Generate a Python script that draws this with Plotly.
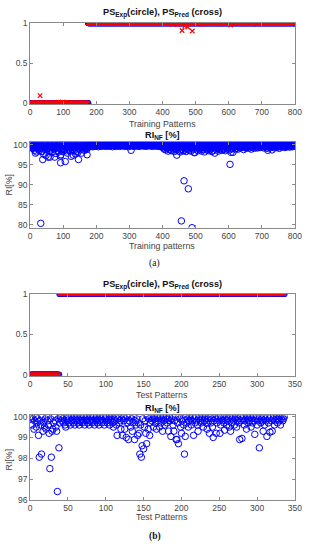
import plotly.graph_objects as go

# ---------------- DATA ----------------
# Training set: experimental PS (run lengths of value), predicted PS deviations
TRAIN_PS_EXP_RUNS = [(0, 175), (1, 625)]
TRAIN_PS_PRED_DEV = {30: 0.095, 86: 0.012, 92: 0.01, 98: 0.014, 104: 0.01, 110: 0.008,
                     430: 0.985, 445: 0.98, 459: 0.906, 467: 0.96, 476: 0.95,
                     490: 0.9, 520: 0.985, 606: 0.975}
TRAIN_RI = [
    99.6, 99.9, 99.2, 100, 99.8, 99.4, 99.7, 100, 99.1, 99.9, 99.5, 99.8, 98.6, 99.9, 100, 97.9, 99.3, 99.8, 99.6, 98.2,
    99.9, 100, 99.4, 98.9, 99.7, 100, 99.2, 98.5, 99.8, 99.9, 99.5, 80.4, 99.1, 99.7, 100, 98.3, 99.6, 96.3, 99.8, 99.4,
    97.6, 99.9, 99.2, 100, 98.8, 99.5, 99.9, 97.3, 99.7, 100, 98.9, 99.4, 99.8, 96.9, 99.6, 99.1, 100, 98.4, 99.7, 96.9,
    99.9, 99.3, 98.7, 100, 99.6, 99.8, 98.1, 99.2, 100, 99.5, 99.7, 98.9, 99.9, 96.9, 99.4, 100, 99.1, 97.8, 99.8, 99.6,
    99.3, 100, 98.6, 99.7, 99.9, 99.2, 98.2, 100, 99.5, 99.8, 97.2, 95.5, 97.5, 99.6, 100, 98.8, 99.4, 99.9, 98.3, 99.7,
    100, 99.1, 99.8, 98.7, 99.5, 95.8, 100, 99.3, 99.7, 98.5, 99.9, 99.6, 97.9, 100, 99.2, 99.8, 98.9, 99.5, 100, 99.4,
    98.4, 99.9, 99.7, 97.1, 100, 99.3, 99.6, 98.8, 99.9, 97.4, 100, 99.5, 98.6, 99.8, 99.2, 100, 97.7, 99.6, 99.9, 98.3,
    99.7, 100, 99.4, 98.1, 99.8, 96.3, 100, 99.5, 99.1, 99.9, 98.7, 99.6, 100, 99.3, 97.9, 99.8, 99.9, 98.9, 100, 99.5,
    99.7, 99.2, 100, 98.6, 99.9, 99.4, 99.8, 100, 99.1, 99.6, 98.8, 97.5, 99.9, 100, 99.3, 99.8, 100, 99.6, 99.9, 100,
    99.9, 100, 99.7, 99.8, 100, 99.6, 99.9, 100, 99.5, 99.8, 100, 99.9, 99.7, 100, 99.8, 99.6, 100, 99.9, 99.8, 100,
    99.7, 100, 99.9, 99.8, 100, 99.5, 99.9, 100, 99.8, 99.7, 100, 99.9, 100, 99.6, 99.8, 100, 99.9, 99.7, 100, 99.8,
    100, 99.9, 99.8, 100, 99.7, 100, 99.9, 99.6, 100, 99.8, 99.9, 100, 99.7, 99.9, 100, 99.8, 100, 99.9, 99.6, 100,
    99.8, 100, 99.9, 99.7, 100, 99.8, 100, 99.9, 99.5, 100, 99.8, 99.9, 100, 99.7, 100, 99.9, 99.8, 100, 99.6, 99.9,
    100, 99.8, 99.9, 100, 99.7, 99.9, 100, 99.8, 100, 99.6, 99.9, 100, 99.8, 99.7, 100, 99.9, 100, 99.8, 99.9, 100,
    99.7, 100, 99.9, 99.8, 100, 99.6, 99.9, 100, 99.8, 100, 99.7, 99.9, 100, 99.8, 99.9, 100, 99.5, 100, 99.8, 99.9,
    100, 99.7, 99.9, 100, 98.6, 99.8, 100, 99.9, 99.7, 100, 99.8, 100, 99.9, 99.6, 100, 99.8, 99.9, 100, 99.7, 100,
    99.9, 99.8, 100, 99.7, 99.9, 100, 99.8, 100, 99.6, 99.9, 100, 99.8, 99.7, 100, 99.9, 100, 99.8, 99.9, 100, 99.7,
    100, 99.9, 99.8, 100, 99.7, 99.9, 100, 99.8, 100, 99.6, 99.9, 100, 99.8, 99.9, 100, 99.7, 100, 99.9, 99.8, 100,
    99.8, 100, 99.9, 99.7, 100, 99.8, 99.9, 100, 99.6, 100, 99.9, 99.8, 100, 99.7, 99.9, 100, 99.8, 100, 99.9, 99.7,
    100, 99.8, 99.9, 100, 99.6, 99.9, 100, 99.8, 99.7, 100, 99.9, 100, 99.8, 99.5, 100, 99.9, 99.7, 100, 99.8, 99.9,
    99.6, 100, 99.2, 99.8, 98.9, 99.9, 100, 99.4, 99.7, 98.7, 100, 99.5, 99.9, 99.1, 100, 99.6, 98.4, 99.8, 100, 99.3,
    99.9, 98.8, 99.6, 100, 99.2, 99.8, 98.5, 100, 99.7, 99.4, 99.9, 98.9, 100, 99.5, 99.8, 98.3, 99.9, 100, 99.1, 99.6,
    98.7, 100, 97.4, 99.8, 99.3, 100, 98.9, 99.7, 99.9, 98.4, 100, 99.5, 99.8, 98.2, 99.9, 100, 81.0, 99.6, 98.8, 99.9,
    100, 99.3, 98.5, 99.8, 91.0, 99.7, 100, 98.7, 99.5, 99.9, 98.3, 100, 99.6, 99.1, 99.8, 98.8, 100, 89.0, 99.4, 99.9,
    98.6, 100, 99.7, 99.2, 99.9, 98.4, 100, 99.5, 79.3, 99.8, 98.9, 100, 99.6, 99.3, 99.9, 98.1, 98.0, 100, 99.7, 99.4,
    99.8, 100, 98.7, 99.6, 99.9, 99.1, 100, 98.5, 99.8, 99.4, 100, 99.7, 98.9, 99.9, 100, 99.2, 99.6, 98.4, 100, 99.8,
    99.5, 99.9, 98.8, 100, 99.3, 99.7, 98.2, 100, 99.6, 99.9, 99.0, 100, 99.4, 98.7, 99.8, 100, 99.2, 99.6, 99.9, 98.5,
    100, 99.7, 99.1, 99.9, 98.8, 100, 99.5, 99.8, 98.3, 100, 99.6, 99.9, 99.2, 98.6, 100, 99.7, 99.4, 97.9, 99.9, 100,
    99.3, 99.8, 98.7, 100, 99.6, 99.9, 99.0, 100, 98.4, 99.7, 99.9, 100, 99.2, 98.9, 99.8, 100, 99.5, 99.9, 98.6, 100,
    99.7, 99.1, 99.9, 100, 98.8, 99.6, 100, 99.4, 99.8, 98.5, 100, 99.9, 99.2, 99.7, 100, 98.9, 99.8, 99.5, 100, 99.9,
    99.3, 100, 98.7, 95.1, 99.8, 99.6, 98.1, 100, 99.4, 99.9, 99.0, 100, 98.1, 99.7, 99.9, 100, 99.5, 99.8, 98.9, 100,
    99.8, 99.5, 100, 99.1, 99.9, 99.7, 100, 98.9, 99.8, 99.6, 100, 99.3, 99.9, 100, 99.6, 99.2, 100, 99.8, 99.5, 99.9,
    100, 99.4, 99.8, 99.9, 98.8, 100, 99.6, 99.9, 99.3, 100, 99.7, 99.8, 100, 99.1, 99.9, 99.6, 100, 99.8, 99.4, 99.9,
    99.7, 100, 99.2, 99.9, 99.8, 100, 99.5, 98.9, 100, 99.7, 99.9, 99.3, 100, 99.8, 99.6, 100, 99.9, 99.1, 99.8, 100,
    99.6, 99.9, 100, 99.4, 99.8, 99.7, 100, 99.2, 99.9, 100, 99.5, 99.8, 99.9, 100, 99.3, 99.7, 100, 99.9, 99.6, 99.8,
    100, 99.5, 99.9, 99.8, 100, 99.2, 99.7, 100, 99.9, 99.4, 99.8, 100, 99.6, 99.9, 100, 99.1, 99.8, 98.6, 100, 99.7,
    99.9, 100, 99.3, 99.8, 99.6, 100, 99.9, 99.5, 100, 99.8, 98.7, 100, 99.4, 99.9, 99.7, 100, 99.8, 99.2, 100, 99.9,
    99.6, 100, 99.8, 99.9, 99.3, 100, 99.7, 99.5, 100, 99.9, 99.8, 100, 99.1, 99.9, 99.6, 100, 99.8, 99.4, 100, 99.9,
    99.7, 100, 99.9, 99.5, 99.8, 100, 99.6, 99.9, 100, 99.3, 99.8, 100, 99.9, 99.7, 100, 99.5, 99.8, 100, 99.9, 99.6,
    100, 99.8, 99.9, 99.4, 100, 99.7, 99.9, 100, 99.8, 99.6, 100, 99.9, 99.5, 100, 99.8, 99.9, 100, 99.7, 99.9, 100,
]

# Test set
TEST_PS_EXP_RUNS = [(0, 38), (1, 298)]
TEST_PS_PRED_DEV = {}
TEST_RI = [
    99.9, 100, 99.6, 99.9, 99.4, 99.8, 100, 99.5, 99.7, 99.9, 99.1, 98.05, 99.8, 99.6, 98.2, 100, 99.3, 99.7, 99.5, 99.9,
    99.4, 100, 99.8, 99.6, 99.2, 97.5, 99.9, 98.05, 99.3, 99.4, 99.7, 100, 99.8, 99.5, 99.3, 96.4, 99.9, 98.5, 99.7, 100,
    100, 99.8, 99.9, 99.7, 100, 99.6, 99.5, 99.9, 99.8, 100, 99.7, 99.9, 99.6, 100, 99.8, 99.9, 99.7, 100, 99.6, 99.9,
    99.8, 100, 99.7, 99.9, 99.6, 99.8, 100, 99.9, 99.7, 99.8, 100, 99.6, 99.9, 99.8, 100, 99.7, 99.9, 99.6, 99.8, 100,
    99.9, 99.7, 99.8, 100, 99.6, 99.9, 99.8, 100, 99.7, 99.9, 99.6, 99.8, 100, 99.9, 99.7, 99.8, 100, 99.6, 99.9, 100,
    99.8, 99.7, 99.9, 100, 99.6, 99.8, 99.9, 100, 99.7, 99.5, 99.9, 99.8, 100, 99.6, 99.1, 99.9, 100, 99.7, 99.8, 99.4,
    99.9, 99.1, 100, 99.8, 99.4, 99.9, 99.0, 100, 99.7, 98.9, 99.8, 100, 99.5, 99.9, 99.3, 99.7, 100, 98.9, 99.8, 99.6,
    99.9, 99.1, 99.7, 99.2, 98.2, 99.6, 98.05, 98.6, 99.9, 98.45, 99.5, 99.8, 99.2, 98.7, 100, 99.4, 99.9, 99.1, 99.7, 100,
    99.8, 99.9, 99.5, 100, 99.9, 99.7, 99.4, 100, 99.8, 99.9, 99.5, 100, 99.7, 99.9, 99.3, 100, 99.8, 99.6, 99.9, 100,
    99.7, 99.9, 99.3, 100, 99.8, 99.05, 99.9, 100, 99.6, 99.3, 99.8, 100, 98.9, 98.9, 99.7, 98.7, 100, 99.9, 99.5, 99.2,
    99.8, 99.9, 99.6, 98.2, 99.05, 100, 99.7, 99.9, 99.5, 99.8, 100, 99.9, 99.6, 99.8, 100, 99.1, 99.9, 99.7, 100, 99.8,
    99.6, 99.3, 99.9, 100, 99.8, 99.7, 99.9, 100, 99.5, 99.8, 99.9, 100, 99.7, 99.4, 99.9, 99.8, 99.2, 100, 99.7, 99.9,
    99.5, 99.0, 99.8, 100, 99.9, 99.2, 99.7, 99.9, 100, 99.8, 99.2, 99.6, 99.9, 100, 99.8, 99.7, 99.35, 99.9, 100, 99.6,
    99.8, 99.9, 99.5, 100, 99.3, 99.7, 99.9, 100, 99.8, 99.6, 99.9, 100, 99.5, 99.8, 99.9, 99.7, 98.9, 100, 99.8, 98.95,
    99.9, 100, 99.6, 99.8, 99.9, 99.4, 100, 99.7, 99.9, 99.8, 100, 99.5, 99.9, 99.7, 100, 99.8, 99.15, 99.9, 100, 99.6,
    99.8, 99.9, 98.5, 100, 99.7, 99.9, 99.8, 99.3, 100, 99.6, 99.9, 99.8, 99.05, 100, 99.7, 99.9, 99.25, 100, 99.8, 99.3,
    99.9, 100, 99.6, 99.8, 99.9, 100, 99.7, 99.9, 99.8, 100, 99.6, 99.9, 100, 99.8, 99.9, 100,
]

TRAIN_XTICKS = [0, 100, 200, 300, 400, 500, 600, 700, 800]
TEST_XTICKS = [0, 50, 100, 150, 200, 250, 300, 350]
PS_YTICKS = [0, 0.5, 1]
TRAIN_RI_YTICKS = [80, 85, 90, 95, 100]
TEST_RI_YTICKS = [96, 97, 98, 99, 100]


def expand(runs):
    out = []
    for v, n in runs:
        out += [v] * n
    return out


train_exp = expand(TRAIN_PS_EXP_RUNS)
train_pred = [TRAIN_PS_PRED_DEV.get(i + 1, v) for i, v in enumerate(train_exp)]
test_exp = expand(TEST_PS_EXP_RUNS)
test_pred = [TEST_PS_PRED_DEV.get(i + 1, v) for i, v in enumerate(test_exp)]
x_train = list(range(1, len(train_exp) + 1))
x_train_ri = list(range(1, len(TRAIN_RI) + 1))
x_test = list(range(1, len(test_exp) + 1))
x_test_ri = list(range(1, len(TEST_RI) + 1))

# ---------------- FIGURE ----------------
W, H = 315, 550
BLUE = "rgb(0,0,255)"
RED = "rgb(255,0,0)"
AX = "#8a8a8a"
TXT = "#444444"
FONT = "Liberation Sans, Arial, sans-serif"


def py(px):
    return 1 - px / H


def px_(x):
    return x / W


fig = go.Figure()

circ = dict(symbol="circle-open", color=BLUE, size=6.5, line=dict(width=1, color=BLUE))
ps_circ = dict(symbol="circle-open", color=BLUE, size=5.5, line=dict(width=1.2, color=BLUE))
cross = dict(symbol="x-thin-open", color=RED, size=4.5, line=dict(width=1.2, color=RED))

fig.add_trace(go.Scatter(x=x_train, y=train_exp, mode="markers", marker=ps_circ, xaxis="x", yaxis="y"))
fig.add_trace(go.Scatter(x=x_train, y=train_pred, mode="markers", marker=cross, xaxis="x", yaxis="y"))
fig.add_trace(go.Scatter(x=x_train_ri, y=TRAIN_RI, mode="markers", marker=circ, xaxis="x2", yaxis="y2"))
fig.add_trace(go.Scatter(x=x_test, y=test_exp, mode="markers", marker=ps_circ, xaxis="x3", yaxis="y3"))
fig.add_trace(go.Scatter(x=x_test, y=test_pred, mode="markers", marker=cross, xaxis="x3", yaxis="y3"))
fig.add_trace(go.Scatter(x=x_test_ri, y=TEST_RI, mode="markers", marker=circ, xaxis="x4", yaxis="y4"))

xdom = [px_(29), px_(301.5)]


def xax(rng, ticks, anchor):
    return dict(domain=xdom, range=rng, tickvals=ticks, ticktext=[str(t) for t in ticks],
                showline=True, linecolor=AX, linewidth=1, mirror="ticks", ticks="inside",
                ticklen=3, tickcolor=AX, showgrid=False, zeroline=False, anchor=anchor,
                tickfont=dict(family=FONT, size=8.5, color=TXT))


def yax(rng, dom, ticks, ttext, anchor):
    return dict(domain=dom, range=rng, tickvals=ticks, ticktext=ttext,
                showline=True, linecolor=AX, linewidth=1, mirror="ticks", ticks="inside",
                ticklen=3, tickcolor=AX, showgrid=False, zeroline=False, anchor=anchor,
                tickfont=dict(family=FONT, size=8.5, color=TXT))


fig.update_layout(
    width=W, height=H, margin=dict(l=0, r=0, t=0, b=0), autosize=False,
    paper_bgcolor="white", plot_bgcolor="white", showlegend=False,
    xaxis=xax([0, 800], TRAIN_XTICKS, "y"),
    yaxis=yax([-0.008, 1.0], [py(100.7), py(18.3)], PS_YTICKS, ["0", "0.5", "1"], "x"),
    xaxis2=xax([0, 800], TRAIN_XTICKS, "y2"),
    yaxis2=yax([79.34, 100.56], [py(226.7), py(140)], TRAIN_RI_YTICKS,
               [str(t) for t in TRAIN_RI_YTICKS], "x2"),
    xaxis3=xax([0, 350], TEST_XTICKS, "y3"),
    yaxis3=yax([-0.012, 1.0], [py(377.7), py(294)], PS_YTICKS, ["0", "0.5", "1"], "x3"),
    xaxis4=xax([0, 350], TEST_XTICKS, "y4"),
    yaxis4=yax([96, 100.06], [py(504), py(418)], TEST_RI_YTICKS,
               [str(t) for t in TEST_RI_YTICKS], "x4"),
)


def ann(text, x, y, size=8.5, bold=False, angle=0, family=FONT, color="#222222"):
    if bold:
        text = "<b>" + text + "</b>"
    fig.add_annotation(text=text, x=px_(x), y=py(y), xref="paper", yref="paper",
                       showarrow=False, xanchor="center", yanchor="middle",
                       textangle=angle, font=dict(family=family, size=size, color=color))


ann("PS<sub>Exp</sub>(circle), PS<sub>Pred</sub> (cross)", 165, 8.5, size=9.2, bold=True, color="#111111")
ann("Training Patterns", 165, 120.7, size=8.8, color=TXT)
ann("RI<sub>NF</sub> [%]", 165, 133, size=9.2, bold=True, color="#111111")
ann("RI[%]", 7, 183, size=8.8, angle=-90, color=TXT)
ann("Training patterns", 165, 245, size=8.8, color=TXT)
ann("(a)", 157, 263, size=9.5, family="Liberation Serif, Times New Roman, serif", color="#111111")
ann("PS<sub>Exp</sub>(circle), PS<sub>Pred</sub> (cross)", 165, 285.5, size=9.2, bold=True, color="#111111")
ann("Test Patterns", 165, 397.3, size=8.8, color=TXT)
ann("RI<sub>NF</sub> [%]", 165, 411, size=9.2, bold=True, color="#111111")
ann("RI[%]", 7, 463, size=8.8, angle=-90, color=TXT)
ann("Test Patterns", 165, 521.7, size=8.8, color=TXT)
ann("(b)", 157, 541.7, size=9.5, bold=True, family="Liberation Serif, Times New Roman, serif", color="#111111")

fig.write_html("out.html",
               config={"displayModeBar": False, "responsive": False},
               post_script="document.body.style.margin='0';document.body.style.overflow='hidden';")
